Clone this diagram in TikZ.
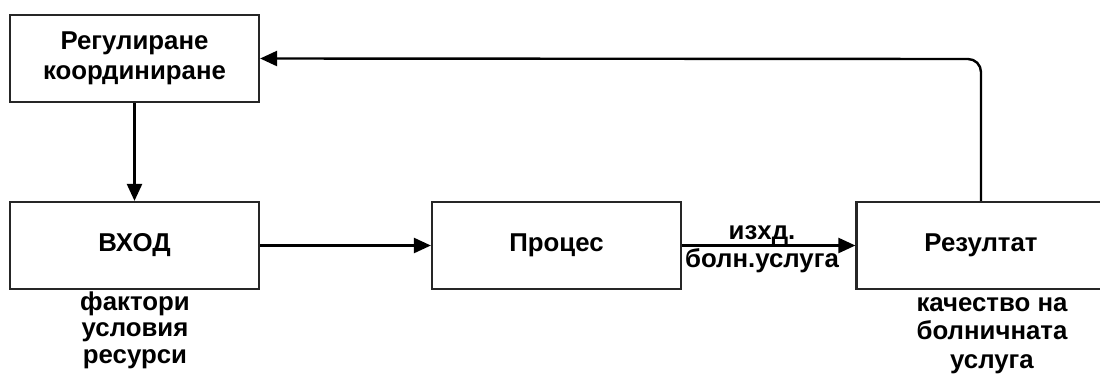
\documentclass[tikz,border=0pt]{standalone}
\usepackage{fontspec}
\setmainfont{Liberation Sans}
\usetikzlibrary{arrows.meta}
\begin{document}
\begin{tikzpicture}[x=1pt,y=-1pt,
  box/.style={draw=black!85, line width=2.2pt, minimum width=249pt, minimum height=87pt, inner sep=0pt, font=\fontsize{25.8}{30}\selectfont\bfseries, align=center},
  lbl/.style={font=\fontsize{25.8}{28}\selectfont\bfseries, align=center, inner sep=0pt},
  conn/.style={line width=2.4pt, -{Triangle[length=17pt,width=15pt]}}]
\useasboundingbox (0,0) rectangle (1100,376);
\node[box] (reg) at (134.5,58.5) {Регулиране\\координиране};
\node[box] (vhod) at (134.5,245.5) {ВХОД};
\node[box] (proc) at (556.5,245.5) {Процес};
\node[box] (rez) at (981,245.5) {Резултат};
\node[lbl, anchor=base, font=\fontsize{25.8}{26.5}\selectfont\bfseries] (f) at (135,363) {фактори\\условия\\ресурси};
\node[lbl, anchor=base, font=\fontsize{25.8}{28.5}\selectfont\bfseries] (k) at (992,368) {качество на\\болничната\\услуга};
\node[lbl, anchor=base] (l1) at (762,239) {изхд.};
\node[lbl, anchor=base] (l2) at (762,267) {болн.услуга};
\coordinate (c1) at (981,59);
\draw[conn] (reg.south) -- (vhod.north);
\draw[conn] (vhod.east) -- (proc.west);
\draw[conn] (proc.east) -- (rez.west);
\draw[conn, rounded corners=13pt] (rez.north) -- (c1) -- (reg.east);
\end{tikzpicture}
\end{document}
